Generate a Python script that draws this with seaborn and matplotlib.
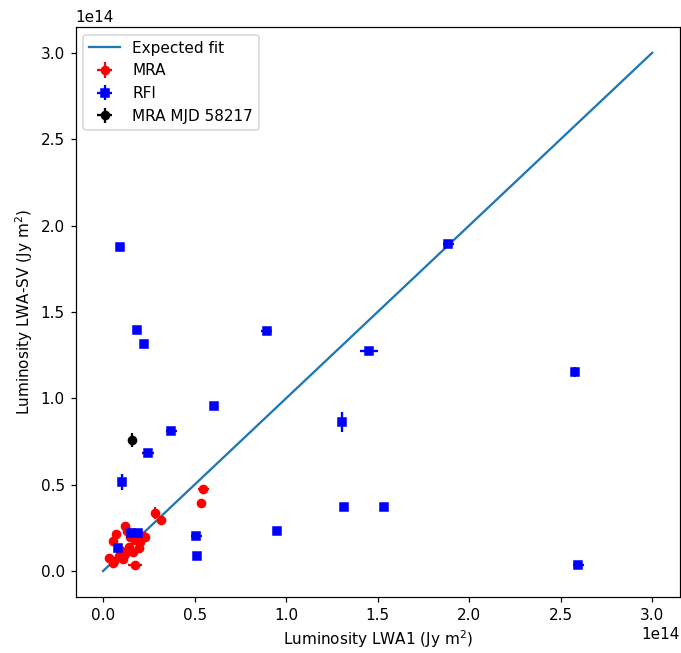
import numpy as np
import pandas as pd
import matplotlib
matplotlib.use("Agg")
import matplotlib.pyplot as plt
import seaborn as sns

SCALE = 1e14

# Expected fit (one-to-one line), in units of 1e14 Jy m^2
fit_x = [0.0, 3.0]
fit_y = [0.0, 3.0]

# MRA events (units of 1e14 Jy m^2)
mra_x = [0.286, 0.315, 0.548, 0.534, 0.175, 0.120, 0.071, 0.056, 0.034, 0.056,
         0.089, 0.120, 0.111, 0.144, 0.175, 0.202, 0.216, 0.198, 0.148, 0.130,
         0.166, 0.060, 0.138, 0.229, 0.095]
mra_y = [0.334, 0.295, 0.475, 0.396, 0.033, 0.262, 0.212, 0.174, 0.077, 0.045,
         0.087, 0.097, 0.068, 0.141, 0.180, 0.170, 0.204, 0.135, 0.200, 0.230,
         0.110, 0.060, 0.120, 0.200, 0.120]
mra_xerr = [0.006, 0.006, 0.030, 0.006, 0.040, 0.005, 0.005, 0.005, 0.005, 0.005,
            0.005, 0.005, 0.005, 0.005, 0.005, 0.005, 0.005, 0.005, 0.005, 0.005,
            0.005, 0.005, 0.005, 0.005, 0.005]
mra_yerr = [0.035, 0.006, 0.006, 0.006, 0.006, 0.006, 0.006, 0.006, 0.006, 0.006,
            0.006, 0.006, 0.006, 0.006, 0.006, 0.006, 0.006, 0.006, 0.006, 0.006,
            0.006, 0.006, 0.006, 0.006, 0.006]

# RFI events
rfi_x = [0.093, 0.186, 0.224, 0.893, 0.607, 0.372, 0.246, 0.104, 1.885, 1.454,
         1.306, 2.579, 1.317, 1.536, 2.596, 0.951, 0.508, 0.514, 0.150, 0.190,
         0.082]
rfi_y = [1.876, 1.396, 1.315, 1.392, 0.955, 0.810, 0.683, 0.515, 1.894, 1.274,
         0.863, 1.152, 0.371, 0.371, 0.035, 0.232, 0.203, 0.087, 0.220, 0.220,
         0.133]
rfi_xerr = [0.005, 0.005, 0.005, 0.030, 0.005, 0.030, 0.035, 0.008, 0.030, 0.050,
            0.010, 0.020, 0.005, 0.005, 0.030, 0.005, 0.030, 0.005, 0.005, 0.005,
            0.005]
rfi_yerr = [0.005, 0.005, 0.005, 0.015, 0.005, 0.020, 0.010, 0.045, 0.015, 0.015,
            0.060, 0.030, 0.005, 0.005, 0.010, 0.005, 0.010, 0.005, 0.005, 0.005,
            0.005]

# MRA on MJD 58217
mjd_x = [0.158]
mjd_y = [0.759]
mjd_xerr = [0.006]
mjd_yerr = [0.040]

DPI = 110
fig = plt.figure(figsize=(681 / DPI, 653 / DPI), dpi=DPI)
ax = fig.add_axes([0.111, 0.0858, 0.887, 0.873])

fit_df = pd.DataFrame({"x": np.array(fit_x) * SCALE, "y": np.array(fit_y) * SCALE})
sns.lineplot(data=fit_df, x="x", y="y", ax=ax, color="tab:blue", lw=1.5,
             label="Expected fit")

def sc(v):
    return np.array(v) * SCALE

MS = 5.3
ax.errorbar(sc(mra_x), sc(mra_y), xerr=sc(mra_xerr), yerr=sc(mra_yerr),
            fmt="o", color="red", ms=MS, elinewidth=1.5, label="MRA")
ax.errorbar(sc(rfi_x), sc(rfi_y), xerr=sc(rfi_xerr), yerr=sc(rfi_yerr),
            fmt="s", color="blue", ms=MS, elinewidth=1.5, label="RFI")
ax.errorbar(sc(mjd_x), sc(mjd_y), xerr=sc(mjd_xerr), yerr=sc(mjd_yerr),
            fmt="o", color="black", ms=MS, elinewidth=1.5, label="MRA MJD 58217")

ax.set_xlim(-0.15 * SCALE, 3.15 * SCALE)
ax.set_ylim(-0.15 * SCALE, 3.15 * SCALE)
ax.set_xticks(np.arange(0, 3.01, 0.5) * SCALE)
ax.set_yticks(np.arange(0, 3.01, 0.5) * SCALE)
ax.set_xlabel("Luminosity LWA1 (Jy m$^2$)")
ax.set_ylabel("Luminosity LWA-SV (Jy m$^2$)")
ax.legend(loc="upper left")

fig.savefig("out.png", dpi=DPI)
